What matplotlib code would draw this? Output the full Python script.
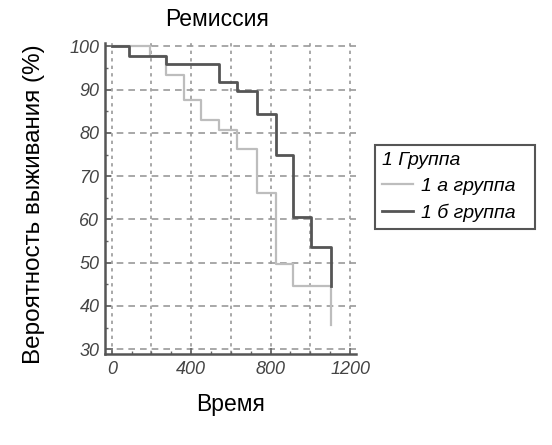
import matplotlib
matplotlib.use("Agg")
import matplotlib.pyplot as plt
from matplotlib.ticker import MultipleLocator

plt.rcParams['font.family'] = ['Liberation Sans', 'DejaVu Sans']

# Data (Kaplan-Meier style steps)
times_a = [0, 194, 273, 365, 451, 542, 631, 729, 825, 914, 1106]
surv_a = [100, 97.7, 93.5, 87.7, 83.1, 80.6, 76.4, 66.1, 49.8, 44.6, 35.7]
times_b = [0, 85, 273, 542, 631, 729, 825, 914, 1002, 1106]
surv_b = [100, 97.7, 95.9, 91.7, 89.6, 84.5, 74.8, 60.6, 53.7, 44.6]

title = "Ремиссия"
xlabel = "Время"
ylabel = "Вероятность выживания (%)"
legend_title = "1 Группа"
labels = ["1 а группа", "1 б группа"]
xticks = [0, 400, 800, 1200]
yticks = [30, 40, 50, 60, 70, 80, 90, 100]

fig = plt.figure(figsize=(5.52, 4.45), dpi=100)
ax = fig.add_axes([105/552, 1-354/445, (356-105)/552, (354-43)/445])

grid_c = '#9a9a9a'
for t in range(0, 1201, 200):
    ax.axvline(t, color=grid_c, lw=1.2, ls=(0, (2, 2.5)), zorder=0)
for v in yticks:
    ax.axhline(v, color=grid_c, lw=1.2, ls=(0, (4, 3)), zorder=0)

la, = ax.step(times_a, surv_a, where='post', color='#bdbdbd', lw=1.6, zorder=3)
lb, = ax.step(times_b, surv_b, where='post', color='#555555', lw=2.0, zorder=4)

ax.set_xlim(-34, 1230)
ax.set_ylim(28.9, 100.8)
ax.set_xticks(xticks)
ax.set_yticks(yticks)
ax.xaxis.set_minor_locator(MultipleLocator(100))
ax.yaxis.set_minor_locator(MultipleLocator(5))
ax.tick_params(which='both', direction='in', color='#666666')
ax.tick_params(which='major', length=4, width=1.2)
ax.tick_params(which='minor', length=2.5, width=1)
for lab in ax.get_xticklabels() + ax.get_yticklabels():
    lab.set_fontstyle('italic')
    lab.set_fontsize(13)
    lab.set_color('#444444')
ax.tick_params(axis='y', pad=4)
ax.tick_params(axis='x', pad=5)

for s in ['top', 'right']:
    ax.spines[s].set_visible(False)
for s in ['left', 'bottom']:
    ax.spines[s].set_color('#555555')
    ax.spines[s].set_linewidth(1.8)

ax.set_title(title, fontsize=16.5, pad=12, x=0.446)
ax.set_xlabel(xlabel, fontsize=16.5, labelpad=11)
ax.set_ylabel(ylabel, fontsize=17.5)
ax.yaxis.set_label_coords(-(105-45)/251, (445-204-91)/311)

leg = fig.legend([la, lb], labels, title=legend_title,
                 loc='upper left',
                 bbox_to_anchor=(375/552, 1-229/445, 160/552, 84/445),
                 mode='expand', borderaxespad=0,
                 fancybox=False, edgecolor='#555555', framealpha=1,
                 prop={'style': 'italic', 'size': 14},
                 title_fontproperties={'style': 'italic', 'size': 14},
                 handlelength=1.6, handletextpad=0.4, borderpad=0.35,
                 labelspacing=0.45, alignment='left')
leg.get_frame().set_linewidth(1.5)

fig.savefig('out.png', dpi=100)
